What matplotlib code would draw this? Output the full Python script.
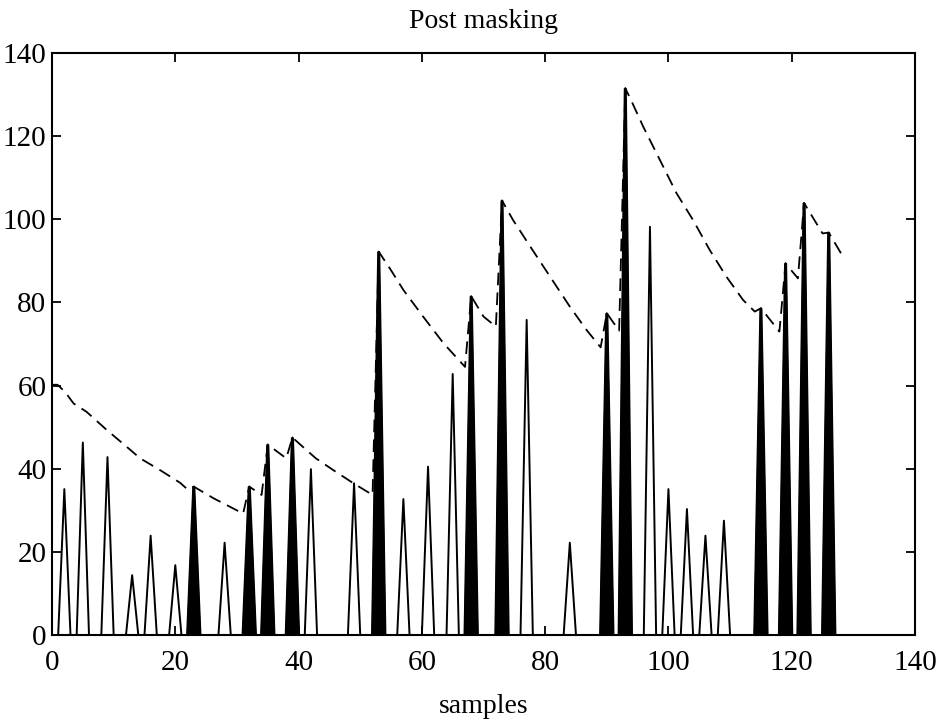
import matplotlib.pyplot as plt
import numpy as np

plt.rcParams['font.family'] = ['Liberation Serif', 'DejaVu Serif']

# spikes of the signal (sample index, level)
peak_idx = [2, 5, 9, 13, 16, 20, 23, 28, 32, 35, 39, 42, 49, 53, 57, 61, 65, 68,
            73, 77, 84, 90, 93, 97, 100, 103, 106, 109, 115, 119, 122, 126]
peak_val = [35.1, 46.3, 42.8, 14.4, 23.9, 16.8, 35.7, 22.2, 35.7, 45.8, 47.5, 39.9,
            36.5, 92.2, 32.7, 40.5, 62.8, 81.5, 104.5, 75.8, 22.2, 77.4, 131.5, 98.2,
            35.1, 30.3, 23.9, 27.5, 78.6, 89.4, 103.9, 96.8]
# spikes that set the masking curve (drawn filled)
masker_idx = [23, 32, 35, 39, 53, 68, 73, 90, 93, 115, 119, 122, 126]

# post masking threshold
thr_x = [0, 0.9, 2.1, 3.5, 5.6, 8.9, 12.1, 14.3, 17.5, 20.8, 22, 23, 26.2, 30.5, 31,
         32, 34, 35, 38, 39, 42.8, 45.6, 48.9, 52, 53, 54.8, 57, 60.2, 63.5, 67, 68,
         70, 72, 73, 74.8, 77.6, 80.8, 84, 86.7, 89, 90, 92, 93, 93.8, 95.9, 98.6,
         101.3, 104, 106.7, 109.4, 112.1, 114, 115, 118, 119, 121, 122, 125, 126, 128]
thr_y = [60.2, 60.2, 58.5, 55.7, 53.7, 49.3, 45.3, 42.5, 39.7, 36.6, 35.0, 35.7, 32.9,
         29.6, 29.2, 35.7, 33.7, 45.8, 42.5, 47.5, 42.5, 39.7, 36.5, 33.7, 92.2, 88.2,
         83.0, 76.6, 70.2, 64.5, 81.5, 76.6, 74.2, 104.5, 99.8, 93.4, 86.2, 79.0, 73.4,
         69.2, 77.4, 73.2, 131.5, 129.1, 122.3, 114.3, 106.3, 99.8, 92.6, 86.2, 80.6,
         77.8, 78.6, 73.0, 89.4, 85.8, 103.9, 96.6, 96.8, 91.8]

n = np.arange(0, 129)
sig = np.zeros(len(n))
sig[peak_idx] = peak_val

fig = plt.figure(figsize=(9.49, 7.26), dpi=100)
ax = fig.add_axes([0.0548, 0.1253, 0.9094, 0.8017])

ax.plot(n, sig, color='k', lw=1.4)
for i in masker_idx:
    h = sig[i]
    ax.fill([i - 1, i, i + 1], [0, h, 0], color='k', lw=2.2)
ax.plot(thr_x, thr_y, color='k', lw=1.3, dashes=(7, 4))

ax.set_xlim(0, 140)
ax.set_ylim(0, 140)
ax.set_xticks(np.arange(0, 141, 20))
ax.set_yticks(np.arange(0, 141, 20))
ax.tick_params(direction='in', length=6.5, width=1.3, labelsize=21,
               top=True, right=True)
ax.tick_params(axis='x', pad=11)
ax.tick_params(axis='y', pad=4)
for s in ax.spines.values():
    s.set_linewidth(1.5)

ax.set_title('Post masking', fontsize=20, pad=18)
ax.set_xlabel('samples', fontsize=20, labelpad=13)

fig.savefig('out.png', dpi=100)
